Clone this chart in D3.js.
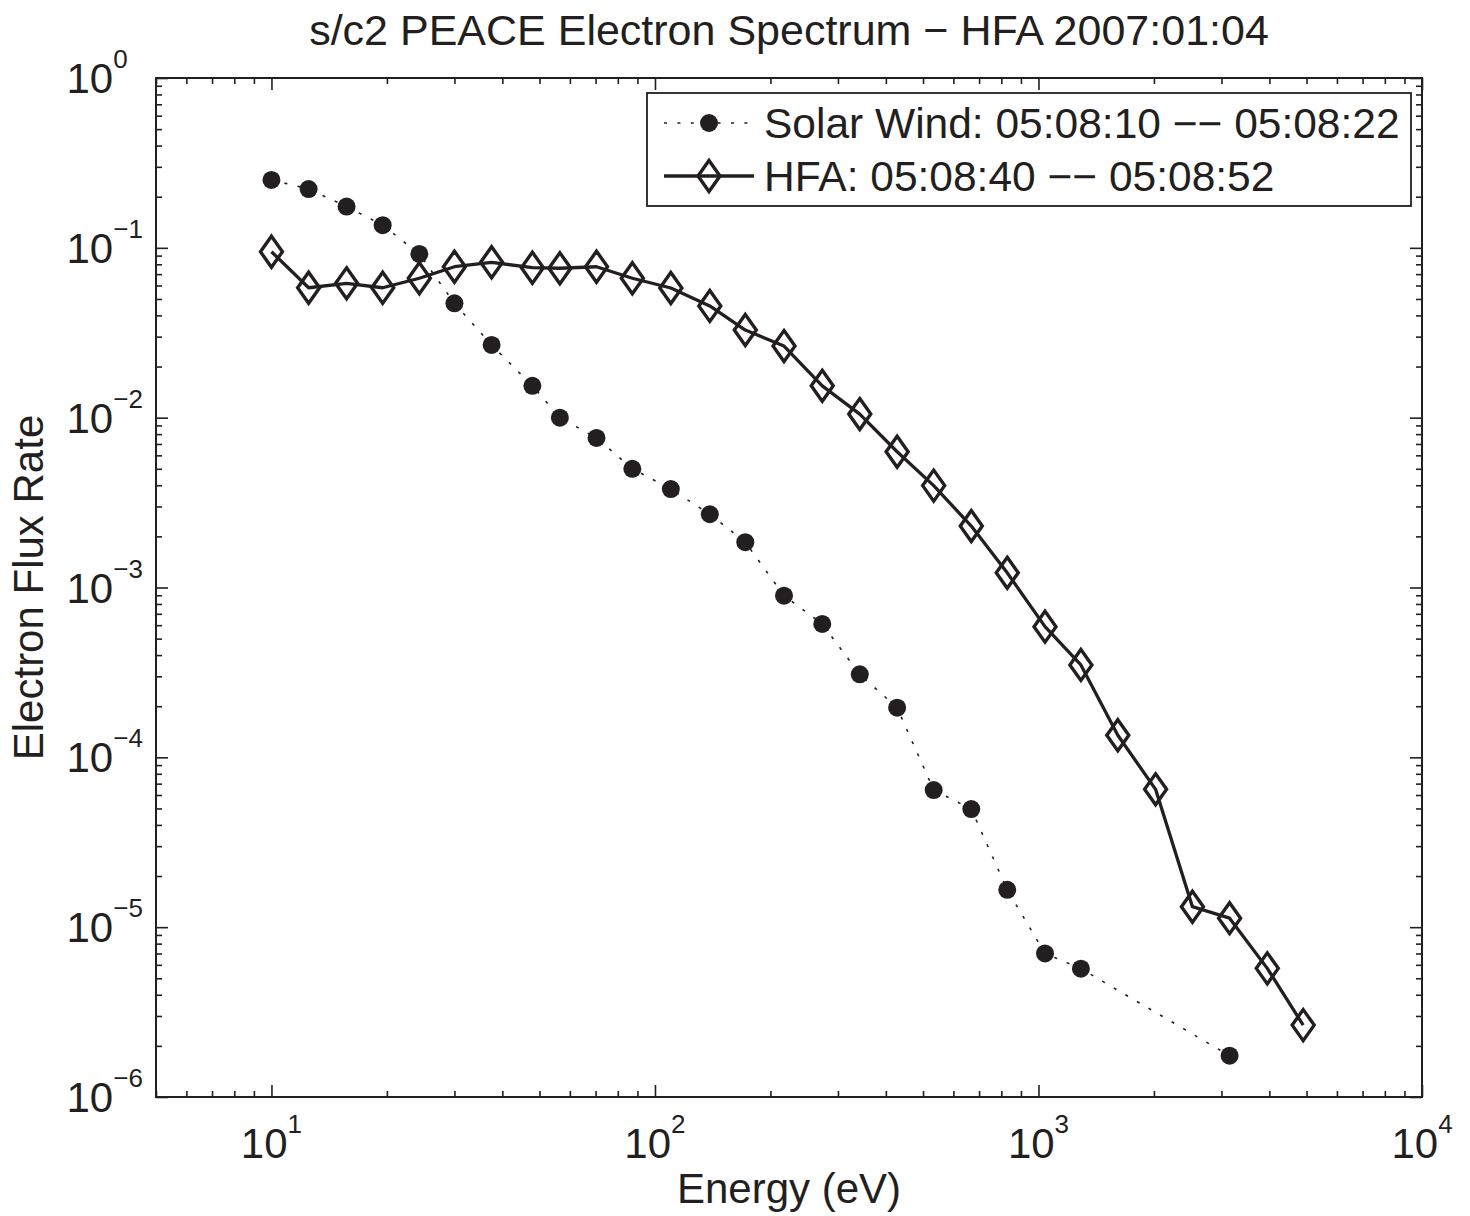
<!DOCTYPE html>
<html>
<head>
<meta charset="utf-8">
<script src="https://cdn.jsdelivr.net/npm/d3@7"></script>
<style>
	body { margin: 0; background: #fff; }
	svg { display: block; font-family: "Liberation Sans", Arial, Helvetica, sans-serif; }
</style>
</head>
<body>
<div class="chart"></div>
<script>
// energy bins (eV) shared by both spectra
const energy = [10.0, 12.5, 15.7, 19.5, 24.3, 30.0, 37.5, 47.9, 56.5, 70.4, 87.3, 110, 139, 172, 217, 273,
	342, 428, 533, 668, 829, 1040, 1290, 1610, 2020, 2520, 3150, 3950, 4900];

const hfaFlux = [0.0949, 0.0582, 0.0618, 0.0582, 0.0662, 0.0774, 0.0822, 0.0764, 0.0758, 0.0774, 0.0662,
	0.0580, 0.0455, 0.0328, 0.0264, 0.0154, 0.0105, 0.0063, 0.00398, 0.0023, 0.00122, 5.88e-4, 3.50e-4,
	1.35e-4, 6.48e-5, 1.32e-5, 1.13e-5, 5.72e-6, 2.65e-6];

// solar wind has no counts between 1.3 keV and 3 keV
const swEnergy = [10.0, 12.5, 15.7, 19.5, 24.3, 30.0, 37.5, 47.9, 56.5, 70.4, 87.3, 110, 139, 172, 217, 273,
	342, 428, 533, 668, 829, 1040, 1290, 3150];

const swFlux = [0.251, 0.222, 0.175, 0.136, 0.092, 0.0471, 0.0268, 0.0154, 0.0100, 0.0076, 0.0050, 0.0038,
	0.0027, 0.00185, 8.95e-4, 6.10e-4, 3.08e-4, 1.96e-4, 6.42e-5, 4.96e-5, 1.66e-5, 7.0e-6, 5.7e-6, 1.75e-6];

const xMajor = [1, 2, 3, 4];
const yMajor = [0, -1, -2, -3, -4, -5, -6];

const titleText = 's/c2 PEACE Electron Spectrum \u2212 HFA 2007:01:04',
	xLabel = 'Energy (eV)',
	yLabel = 'Electron Flux Rate',
	legendText = ['Solar Wind: 05:08:10 \u2212\u2212 05:08:22', 'HFA: 05:08:40 \u2212\u2212 05:08:52'];

const ink = '#231f20';
const outerW = 1470, outerH = 1216;
const margin = {left: 156, right: 48, top: 78, bottom: 119};
const w = outerW - margin.left - margin.right,
	h = outerH - margin.top - margin.bottom;

const x = d3.scaleLog().domain([5, 10000]).range([0, w]);
const y = d3.scaleLog().domain([1e-6, 1]).range([h, 0]);

const svg = d3.select('.chart').append('svg')
	.attr('width', outerW)
	.attr('height', outerH);

const g = svg.append('g')
	.attr('transform', `translate(${margin.left}, ${margin.top})`);

// minor ticks 2..9 per decade
function minors(lo, hi) {
	const out = [];
	for (let e = lo; e < hi; e++) {
		for (let k = 1; k <= 9; k++) out.push(k * Math.pow(10, e));
	}
	return out;
}
const xMinor = minors(0, 4).filter(v => v >= 5 && v <= 10000 && !xMajor.includes(Math.log10(v)));
const yMinor = minors(-6, 0).filter(v => !yMajor.includes(Math.round(Math.log10(v) * 1e6) / 1e6));

function tickSet(axisFn, scale, values, size, transform) {
	const a = g.append('g')
		.attr('transform', transform)
		.call(axisFn(scale).tickValues(values).tickSize(size).tickFormat(''));
	a.select('.domain').remove();
	a.selectAll('line').attr('stroke', ink).attr('stroke-width', 1.6);
}

const xMajorVals = xMajor.map(e => Math.pow(10, e));
const yMajorVals = yMajor.map(e => Math.pow(10, e));

tickSet(d3.axisBottom, x, xMajorVals, -12, `translate(0, ${h})`);
tickSet(d3.axisBottom, x, xMinor, -6, `translate(0, ${h})`);
tickSet(d3.axisTop, x, xMajorVals, -12, 'translate(0, 0)');
tickSet(d3.axisTop, x, xMinor, -6, 'translate(0, 0)');
tickSet(d3.axisLeft, y, yMajorVals, -12, 'translate(0, 0)');
tickSet(d3.axisLeft, y, yMinor, -6, 'translate(0, 0)');
tickSet(d3.axisRight, y, yMajorVals, -12, `translate(${w}, 0)`);
tickSet(d3.axisRight, y, yMinor, -6, `translate(${w}, 0)`);

g.append('rect')
	.attr('width', w)
	.attr('height', h)
	.attr('fill', 'none')
	.attr('stroke', ink)
	.attr('stroke-width', 2);

// tick labels 10^n
const xt = g.selectAll('.x-label')
	.data(xMajor)
	.enter().append('text')
	.attr('class', 'x-label')
	.attr('x', d => x(Math.pow(10, d)))
	.attr('y', h + 61)
	.attr('text-anchor', 'middle')
	.attr('fill', ink)
	.style('font-size', '42px');
xt.append('tspan').text('10');
xt.append('tspan').attr('dy', -25).style('font-size', '26px').text(d => d);

const yt = g.selectAll('.y-label')
	.data(yMajor)
	.enter().append('text')
	.attr('class', 'y-label')
	.attr('x', 66.5 - margin.left)
	.attr('y', d => y(Math.pow(10, d)) + 15)
	.attr('fill', ink)
	.style('font-size', '42px');
yt.append('tspan').text('10');
yt.append('tspan').attr('dy', -25).style('font-size', '26px').text(d => d === 0 ? '0' : '\u2212' + Math.abs(d));

// titles
svg.append('text')
	.attr('x', margin.left + w / 2)
	.attr('y', 45)
	.attr('text-anchor', 'middle')
	.attr('fill', ink)
	.style('font-size', '43px')
	.text(titleText);

svg.append('text')
	.attr('x', margin.left + w / 2)
	.attr('y', 1203)
	.attr('text-anchor', 'middle')
	.attr('fill', ink)
	.style('font-size', '42px')
	.text(xLabel);

svg.append('text')
	.attr('transform', `translate(43, ${margin.top + h / 2}) rotate(-90)`)
	.attr('text-anchor', 'middle')
	.attr('fill', ink)
	.style('font-size', '42px')
	.text(yLabel);

// series
const sw = swEnergy.map((e, i) => ({e: e, v: swFlux[i]}));
const hfa = energy.map((e, i) => ({e: e, v: hfaFlux[i]}));

const line = d3.line().x(d => x(d.e)).y(d => y(d.v));

g.append('path')
	.datum(sw)
	.attr('d', line)
	.attr('fill', 'none')
	.attr('stroke', ink)
	.attr('stroke-width', 1.6)
	.attr('stroke-dasharray', '3,10.4');

g.selectAll('.sw-dot')
	.data(sw)
	.enter().append('circle')
	.attr('class', 'sw-dot')
	.attr('cx', d => x(d.e))
	.attr('cy', d => y(d.v))
	.attr('r', 9)
	.attr('fill', ink);

g.append('path')
	.datum(hfa)
	.attr('d', line)
	.attr('fill', 'none')
	.attr('stroke', ink)
	.attr('stroke-width', 3.3)
	.attr('stroke-linejoin', 'round');

const diamond = 'M0,-15.5L11,0L0,15.5L-11,0Z';

g.selectAll('.hfa-mark')
	.data(hfa)
	.enter().append('path')
	.attr('class', 'hfa-mark')
	.attr('transform', d => `translate(${x(d.e)}, ${y(d.v)})`)
	.attr('d', diamond)
	.attr('fill', 'none')
	.attr('stroke', ink)
	.attr('stroke-width', 3.4);

// legend
const lg = svg.append('g');
lg.append('rect')
	.attr('x', 647).attr('y', 93)
	.attr('width', 764).attr('height', 113)
	.attr('fill', '#fff')
	.attr('stroke', ink)
	.attr('stroke-width', 1.8);

const rowY = [123, 176];
lg.append('line')
	.attr('x1', 664).attr('x2', 754).attr('y1', rowY[0]).attr('y2', rowY[0])
	.attr('stroke', ink).attr('stroke-width', 1.6).attr('stroke-dasharray', '3,10.4');
lg.append('circle')
	.attr('cx', 709).attr('cy', rowY[0]).attr('r', 9).attr('fill', ink);
lg.append('line')
	.attr('x1', 664).attr('x2', 754).attr('y1', rowY[1]).attr('y2', rowY[1])
	.attr('stroke', ink).attr('stroke-width', 3.3);
lg.append('path')
	.attr('transform', `translate(709, ${rowY[1]})`)
	.attr('d', diamond)
	.attr('fill', 'none').attr('stroke', ink).attr('stroke-width', 3.4);

lg.selectAll('.leg-text')
	.data(legendText)
	.enter().append('text')
	.attr('class', 'leg-text')
	.attr('x', 764)
	.attr('y', (d, i) => rowY[i] + 15)
	.attr('fill', ink)
	.style('font-size', '42.5px')
	.text(d => d);
</script>
</body>
</html>
